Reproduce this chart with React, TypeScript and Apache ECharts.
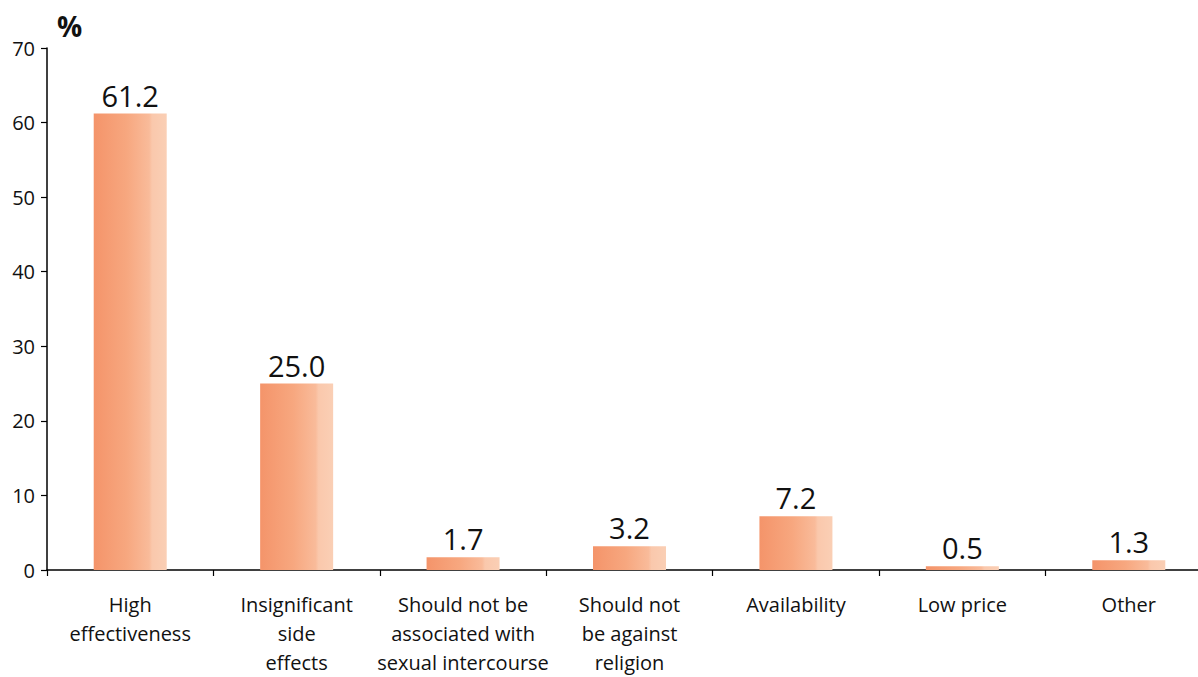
import React, { useEffect, useRef } from "react";
import * as echarts from "echarts";

const categories = [
  "High\neffectiveness",
  "Insignificant\nside\neffects",
  "Should not be\nassociated with\nsexual intercourse",
  "Should not\nbe against\nreligion",
  "Availability",
  "Low price",
  "Other",
];
const values = [61.2, 25.0, 1.7, 3.2, 7.2, 0.5, 1.3];
const yTicks = [0, 10, 20, 30, 40, 50, 60, 70];

const FONT = "'Open Sans', 'Noto Sans', sans-serif";
const INK = "#111111";

export default function App() {
  const ref = useRef<HTMLDivElement>(null);

  useEffect(() => {
    if (!ref.current) return;
    const chart = echarts.init(ref.current, undefined, { renderer: "svg" });

    // Horizontal orange-to-peach fill, with a soft band near the right edge
    const barFill = new echarts.graphic.LinearGradient(0, 0, 1, 0, [
      { offset: 0, color: "#f4946a" },
      { offset: 0.45, color: "#f7a77f" },
      { offset: 0.76, color: "#f9bb9a" },
      { offset: 0.8, color: "#fac8ac" },
      { offset: 1, color: "#facfb5" },
    ]);

    chart.setOption({
      animation: false,
      backgroundColor: "#ffffff",
      textStyle: { fontFamily: FONT },
      grid: { left: 47, top: 48, bottom: 105, right: 0, containLabel: false },
      graphic: [
        {
          type: "text",
          left: 57,
          top: 12,
          style: {
            text: "%",
            font: `bold 28px ${FONT}`,
            fill: INK,
          },
        },
      ],
      xAxis: {
        type: "category",
        data: categories,
        boundaryGap: true,
        axisLine: { show: true, lineStyle: { color: "#000", width: 1.5 } },
        axisTick: { show: true, length: 6, lineStyle: { color: "#000", width: 1.2 } },
        axisLabel: {
          interval: 0,
          margin: 20,
          fontSize: 20,
          lineHeight: 29,
          color: INK,
          fontFamily: FONT,
          align: "center",
        },
      },
      yAxis: {
        type: "value",
        min: yTicks[0],
        max: yTicks[yTicks.length - 1],
        interval: 10,
        splitLine: { show: false },
        axisLine: { show: true, lineStyle: { color: "#000", width: 1.5 } },
        axisTick: { show: true, length: 6, lineStyle: { color: "#000", width: 1.2 } },
        axisLabel: { margin: 12, fontSize: 20, color: INK, fontFamily: FONT },
      },
      series: [
        {
          type: "bar",
          data: values,
          barWidth: 73,
          itemStyle: { color: barFill },
          label: {
            show: true,
            position: "top",
            distance: 4,
            fontSize: 29,
            color: INK,
            fontFamily: FONT,
            formatter: (p: any) => Number(p.value).toFixed(1),
          },
        },
      ],
    });

    return () => chart.dispose();
  }, []);

  // The canvas is a little wider than the window so the category axis
  // runs on past the right edge, the way the printed figure is cropped.
  return (
    <div style={{ position: "fixed", left: 0, top: 0, width: 1198, height: 677, overflow: "hidden", background: "#fff" }}>
      <div ref={ref} style={{ width: 1212, height: 677 }} />
    </div>
  );
}
